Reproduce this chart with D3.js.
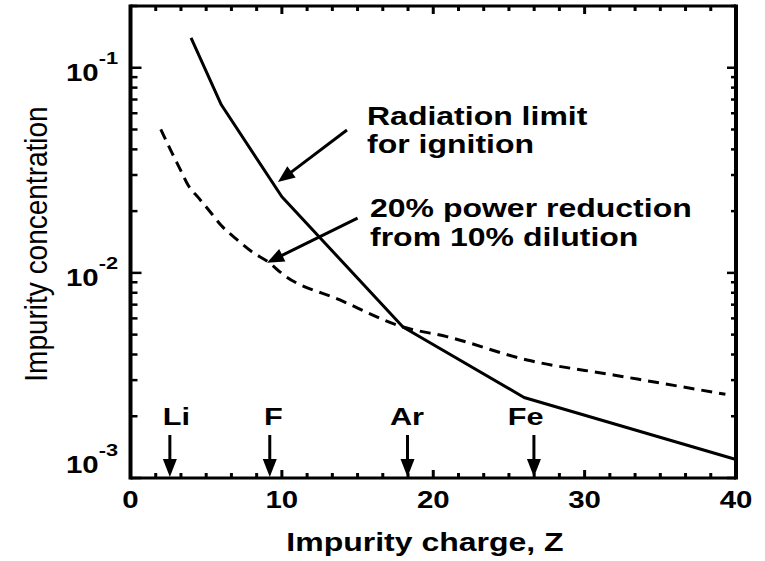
<!DOCTYPE html>
<html><head><meta charset="utf-8">
<script src="https://cdn.jsdelivr.net/npm/d3@7"></script>
<style>html,body{margin:0;padding:0;background:#fff;}svg{display:block;}</style>
</head><body>
<script>
// ---- data ----
const zSolid = [4, 6, 10, 18, 26, 40];
const vSolid = [0.14, 0.066, 0.0235, 0.00545, 0.00247, 0.00123];
const zDashed = [2, 2.7, 3.3, 3.8, 4.5, 5.3, 6, 7, 8, 9.1, 10.1, 13.8, 18, 20.9, 26.2, 31.9, 39.3];
const vDashed = [0.0501, 0.039, 0.0318, 0.0268, 0.0232, 0.0197, 0.0170, 0.0146, 0.0127, 0.0113, 0.0098, 0.0074, 0.00545, 0.00489, 0.00376, 0.00318, 0.00256];
const xTickValues = [0, 10, 20, 30, 40];
const xTickLabels = ["0", "10", "20", "30", "40"];
const yMajorValues = [1e-1, 1e-2, 1e-3];
const yTickExponents = ["-1", "-2", "-3"];
const elementNames = ["Li", "F", "Ar", "Fe"];
const elementZ = [2.6, 9.2, 18.3, 26.65];
const noteLines = [["Radiation limit", "for ignition"], ["20% power reduction", "from 10% dilution"]];
const noteTailZ = [14.3, 15.0];
const noteTailV = [0.0497, 0.0185];
const noteTipZ = [9.74, 9.02];
const noteTipV = [0.0277, 0.0112];
const xTitle = "Impurity charge, Z";
const yTitle = "Impurity concentration";

// ---- layout ----
const W = 765, H = 561;
const L = 130.5, R = 736, T = 6, B = 478;
const SX = 1.28; // horizontal stretch of glyphs
const FONT = "'Liberation Sans', Arial, Helvetica, sans-serif";

const svg = d3.select("body").append("svg").attr("width", W).attr("height", H);
const x = d3.scaleLinear().domain([0, 40]).range([L, R]);
const y = d3.scaleLog().domain([1e-3, 0.2]).range([B, T]);

function stext(px, py, str, size, weight, anchor, sx) {
  return svg.append("text")
    .attr("transform", `translate(${px},${py}) scale(${sx || SX},1)`)
    .attr("text-anchor", anchor || "start")
    .attr("font-family", FONT).attr("font-size", size).attr("font-weight", weight || "bold")
    .attr("fill", "#000").text(str);
}

// ---- ticks ----
const xMinor = d3.range(0, 25).map(k => k * 10 / 6);
const g = svg.append("g").attr("stroke", "#000");
xMinor.forEach((v, k) => {
  const major = k % 6 === 0;
  g.append("line").attr("x1", x(v)).attr("x2", x(v)).attr("y1", B).attr("y2", B - (major ? 8 : 5)).attr("stroke-width", 3);
  g.append("line").attr("x1", x(v)).attr("x2", x(v)).attr("y1", T).attr("y2", T + (major ? 8 : 5)).attr("stroke-width", 3);
});
const yMinor = [];
[1e-3, 1e-2, 1e-1].forEach(d => { for (let m = 1; m <= 9; m++) { const v = m * d; if (v <= 0.2 + 1e-9) yMinor.push([v, m === 1]); } });
yMinor.forEach(([v, major]) => {
  g.append("line").attr("x1", L).attr("x2", L + (major ? 11 : 7)).attr("y1", y(v)).attr("y2", y(v)).attr("stroke-width", 2.5);
  g.append("line").attr("x1", R).attr("x2", R - (major ? 9 : 5)).attr("y1", y(v)).attr("y2", y(v)).attr("stroke-width", 2.5);
});

// ---- frame ----
svg.append("line").attr("x1", L).attr("x2", L).attr("y1", T - 1.5).attr("y2", B + 1.5).attr("stroke", "#000").attr("stroke-width", 4);
svg.append("line").attr("x1", R).attr("x2", R).attr("y1", T - 1.5).attr("y2", B + 1.5).attr("stroke", "#000").attr("stroke-width", 4);
svg.append("line").attr("x1", L).attr("x2", R).attr("y1", T).attr("y2", T).attr("stroke", "#000").attr("stroke-width", 3);
svg.append("line").attr("x1", L).attr("x2", R).attr("y1", B).attr("y2", B).attr("stroke", "#000").attr("stroke-width", 3);

// ---- tick labels ----
xTickValues.forEach((v, i) => stext(x(v), 508, xTickLabels[i], 23, "bold", "middle"));
yMajorValues.forEach((v, i) => {
  const by = i === 2 ? y(v) - 5 : y(v) + 13.5;
  const t = stext(118, by, null, 23, "bold", "end");
  t.append("tspan").text("10");
  t.append("tspan").attr("dy", -17).attr("font-size", 17).text(yTickExponents[i]);
});

// ---- axis titles ----
stext(425, 551, xTitle, 25, "bold", "middle");
svg.append("text")
  .attr("transform", `translate(47,244) scale(1.15,1) rotate(-90)`)
  .attr("text-anchor", "middle").attr("font-family", FONT).attr("font-size", 28)
  .attr("fill", "#000").text(yTitle);

// ---- curves ----
const solidData = zSolid.map((z, i) => [z, vSolid[i]]);
const dashedData = zDashed.map((z, i) => [z, vDashed[i]]);
svg.append("path").datum(solidData)
  .attr("d", d3.line().x(d => x(d[0])).y(d => y(d[1])))
  .attr("fill", "none").attr("stroke", "#000").attr("stroke-width", 3).attr("stroke-linejoin", "round");
svg.append("path").datum(dashedData)
  .attr("d", d3.line().curve(d3.curveMonotoneX).x(d => x(d[0])).y(d => y(d[1])))
  .attr("fill", "none").attr("stroke", "#000").attr("stroke-width", 3).attr("stroke-dasharray", "11,7");

// ---- arrows ----
function arrow(x1, y1, x2, y2, len, hw) {
  const dx = x2 - x1, dy = y2 - y1, d = Math.hypot(dx, dy);
  const ux = dx / d, uy = dy / d;
  const bx = x2 - ux * len, by = y2 - uy * len;
  svg.append("line").attr("x1", x1).attr("y1", y1).attr("x2", bx + ux * 2).attr("y2", by + uy * 2)
    .attr("stroke", "#000").attr("stroke-width", 3);
  svg.append("path").attr("d", `M${x2},${y2}L${bx - uy * hw},${by + ux * hw}L${bx + uy * hw},${by - ux * hw}Z`)
    .attr("fill", "#000");
}
noteLines.forEach((lines, i) => {
  arrow(x(noteTailZ[i]), y(noteTailV[i]), x(noteTipZ[i]), y(noteTipV[i]), 17, 7);
});
stext(367, 125, noteLines[0][0], 25);
stext(367, 153, noteLines[0][1], 25);
stext(370, 217, noteLines[1][0], 25);
stext(370, 246, noteLines[1][1], 25);

const labelOffset = [6.5, 3.7, -0.5, -8.3];
elementNames.forEach((n, i) => {
  const ex = x(elementZ[i]);
  arrow(ex, 435, ex, 477, 18, 7);
  stext(ex + labelOffset[i], 425, n, 24, "bold", "middle");
});
</script>
</body></html>
